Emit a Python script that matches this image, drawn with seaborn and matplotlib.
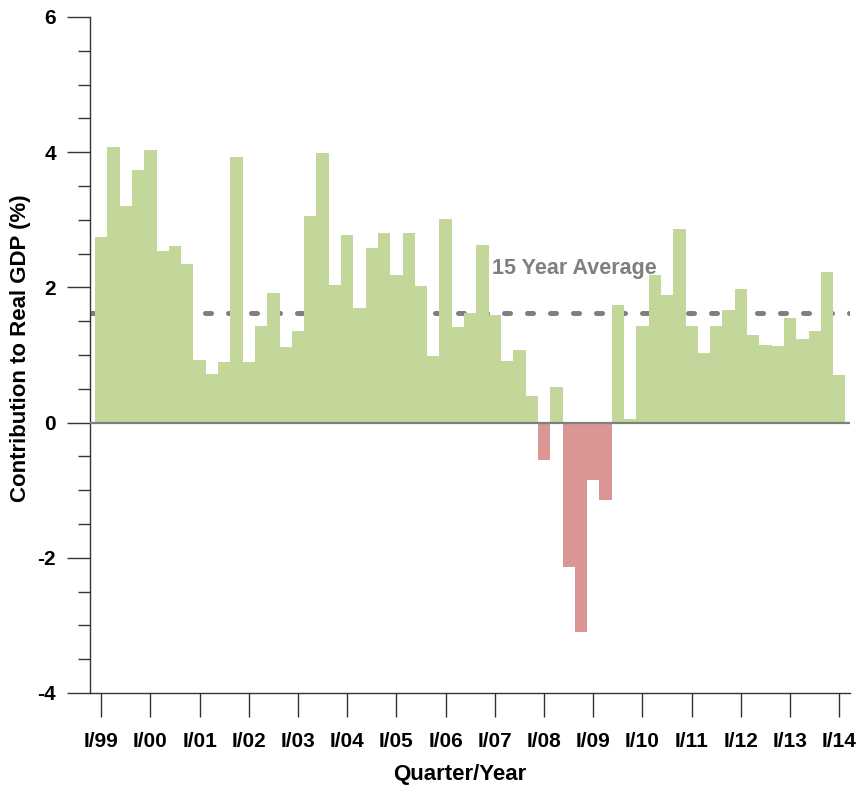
import numpy as np
import pandas as pd
import seaborn as sns
import matplotlib.pyplot as plt
from matplotlib.ticker import MultipleLocator

# quarterly contribution to real GDP (%), 1999Q1 .. 2014Q1
values = [2.75, 4.07, 3.20, 3.74, 4.03, 2.54, 2.61, 2.35,
          0.93, 0.72, 0.89, 3.93, 0.89, 1.43, 1.91, 1.12,
          1.35, 3.06, 3.99, 2.03, 2.77, 1.69, 2.58, 2.80,
          2.19, 2.80, 2.02, 0.99, 3.01, 1.41, 1.62, 2.63,
          1.59, 0.91, 1.08, 0.39, -0.56, 0.52, -2.13, -3.10,
          -0.85, -1.14, 1.74, 0.06, 1.43, 2.18, 1.89, 2.87,
          1.43, 1.03, 1.43, 1.66, 1.98, 1.29, 1.15, 1.13,
          1.54, 1.24, 1.36, 2.23, 0.71]
tick_labels = ['I/99', 'I/00', 'I/01', 'I/02', 'I/03', 'I/04', 'I/05', 'I/06',
               'I/07', 'I/08', 'I/09', 'I/10', 'I/11', 'I/12', 'I/13', 'I/14']
average = 1.62

green = '#C4D79B'
red = '#D99694'

sns.set_style('white')
plt.rcParams['font.family'] = ['Liberation Sans', 'DejaVu Sans']
plt.rcParams['axes.unicode_minus'] = False
plt.rcParams['text.color'] = 'black'
plt.rcParams['axes.labelcolor'] = 'black'
plt.rcParams['xtick.labelcolor'] = 'black'
plt.rcParams['ytick.labelcolor'] = 'black'

df = pd.DataFrame({'quarter': range(len(values)), 'value': values})
df['sign'] = np.where(df['value'] >= 0, 'pos', 'neg')

fig = plt.figure(figsize=(8.56, 7.88), dpi=100)
ax = fig.add_axes([0.1051, 0.1206, 0.8879, 0.8579])

# average line sits behind the bars
ax.axhline(average, color='#7F7F7F', lw=3.6, linestyle=(0, (1.2, 3.4)),
           dash_capstyle='round', zorder=0.5)

sns.barplot(data=df, x='quarter', y='value', hue='sign',
            palette={'pos': green, 'neg': red}, width=1, dodge=False,
            legend=False, saturation=1, linewidth=0, ax=ax, zorder=1)

ax.axhline(0, color='#7F7F7F', lw=1.6, zorder=3)

ax.text(31.8, 2.28, '15 Year Average', color='#7F7F7F', fontsize=15.5,
        fontweight='bold', ha='left', va='center')

ax.set_xlim(-0.91, 60.87)
ax.set_ylim(-4, 6)
ax.set_xticks(range(0, len(values), 4))
ax.set_xticklabels(tick_labels)
ax.yaxis.set_major_locator(MultipleLocator(2))
ax.yaxis.set_minor_locator(MultipleLocator(0.5))

ax.tick_params(axis='y', which='major', direction='out', length=16.5, width=1,
               color='#333333', pad=8, labelsize=15, left=True)
ax.tick_params(axis='y', which='minor', direction='out', length=8.5, width=1,
               color='#333333', left=True)
ax.tick_params(axis='x', which='major', direction='out', length=17, width=1,
               color='#333333', pad=11, labelsize=15, bottom=True)
for lbl in ax.get_xticklabels() + ax.get_yticklabels():
    lbl.set_fontweight('bold')

for s in ['top', 'right']:
    ax.spines[s].set_visible(False)
for s in ['left', 'bottom']:
    ax.spines[s].set_color('#333333')
    ax.spines[s].set_linewidth(1)

ax.set_xlabel('Quarter/Year', fontsize=16, fontweight='bold')
ax.set_ylabel('Contribution to Real GDP (%)', fontsize=16, fontweight='bold')
ax.xaxis.set_label_coords(0.487, -0.121)
ax.yaxis.set_label_coords(-0.092, 0.51)
ax.xaxis.label.set_va('center')
ax.yaxis.label.set_va('center')

fig.savefig('out.png', dpi=100)
